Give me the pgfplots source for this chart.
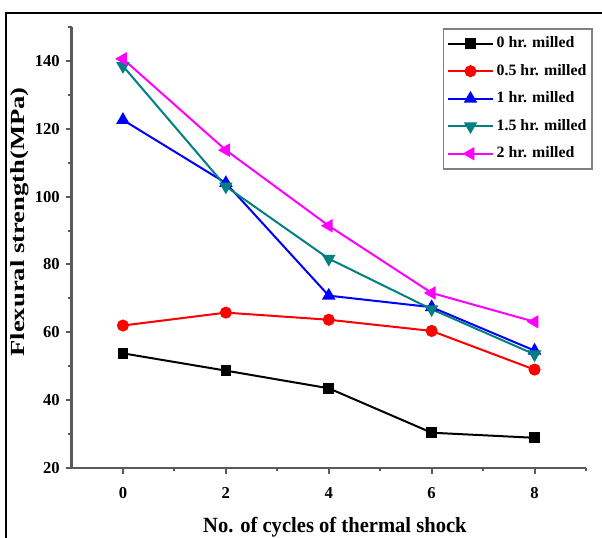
\documentclass[border=0pt]{standalone}
\usepackage{fontspec}
\setmainfont{Liberation Serif}
\usepackage{graphicx}
\usepackage{pgfplots}
\pgfplotsset{compat=1.18}
\definecolor{tealc}{RGB}{0,128,128}
\definecolor{magc}{RGB}{255,0,255}
\definecolor{redc}{RGB}{255,0,0}
\definecolor{bluec}{RGB}{0,0,255}
\definecolor{axgray}{RGB}{90,90,90}
\begin{document}
\begin{tikzpicture}
\useasboundingbox (0pt,0pt) rectangle (361.2pt,322.8pt);
\begin{axis}[
  at={(42.9pt,42pt)}, anchor=south west,
  scale only axis, width=308.7pt, height=264.6pt,
  xmin=-1, xmax=9, ymin=20, ymax=150,
  clip=false,
  axis lines*=left,
  axis line style={axgray, line width=1.5pt},
  xtick={0,2,4,6,8}, minor xtick={1,3,5,7,9},
  ytick={20,40,...,140}, minor ytick={30,50,...,150},
  tick align=outside,
  major tick length=3.5pt, minor tick length=2pt,
  tick style={axgray, line width=1.2pt},
  ticklabel style={font=\fontsize{10}{12}\bfseries},
  /pgf/number format/assume math mode=true,
  xticklabel style={yshift=-4.5pt},
  xlabel={\scalebox{0.95}[1]{No. of cycles of thermal shock}},
  ylabel={\scalebox{1.33}[1]{Flexural strength(MPa)}},
  xlabel style={at={(axis description cs:0.512,-0.1474)}, anchor=base, font=\fontsize{13}{15}\bfseries},
  ylabel style={at={(axis description cs:-0.0904,0.558)}, anchor=base, font=\fontsize{12}{14}\bfseries},
  legend style={at={(1.0136,0.998)}, anchor=north east, draw=gray, line width=1pt,
    font=\fontsize{9.5}{11}\bfseries, inner xsep=2pt, inner ysep=3pt, row sep=4.5pt,
    nodes={inner sep=1.5pt, text height=7pt, text depth=2pt, anchor=west}},
  legend cell align=left,
  legend image code/.code={\draw[mark repeat=2, mark phase=2] plot coordinates {(0cm,0cm) (0.48cm,0cm) (0.96cm,0cm)};},
]
\addplot[black, line width=1.2pt, mark=square*, mark size=2.6pt, mark options={solid}] coordinates {(0,53.8) (2,48.7) (4,43.5) (6,30.4) (8,28.9)};
\addplot[redc, line width=1.2pt, mark=*, mark size=3pt, mark options={solid}] coordinates {(0,62) (2,65.8) (4,63.7) (6,60.4) (8,49)};
\addplot[bluec, line width=1.2pt, mark=triangle*, mark size=3.5pt, mark options={solid}] coordinates {(0,122.6) (2,104) (4,70.8) (6,67.4) (8,54.6)};
\addplot[tealc, line width=1.2pt, mark=triangle*, mark size=3.5pt, mark options={solid, rotate=180}] coordinates {(0,138.5) (2,103) (4,81.7) (6,66.8) (8,53.5)};
\addplot[magc, line width=1.2pt, mark=triangle*, mark size=3.5pt, mark options={solid, rotate=90}] coordinates {(0,140.6) (2,113.7) (4,91.4) (6,71.6) (8,63.1)};
\legend{0 hr. milled, 0.5 hr. milled, 1 hr. milled, 1.5 hr. milled, 2 hr. milled}
\end{axis}
\draw[black, line width=1.5pt] (3.6pt,0pt) -- (3.6pt,315pt) -- (361.2pt,315pt);
\end{tikzpicture}
\end{document}
